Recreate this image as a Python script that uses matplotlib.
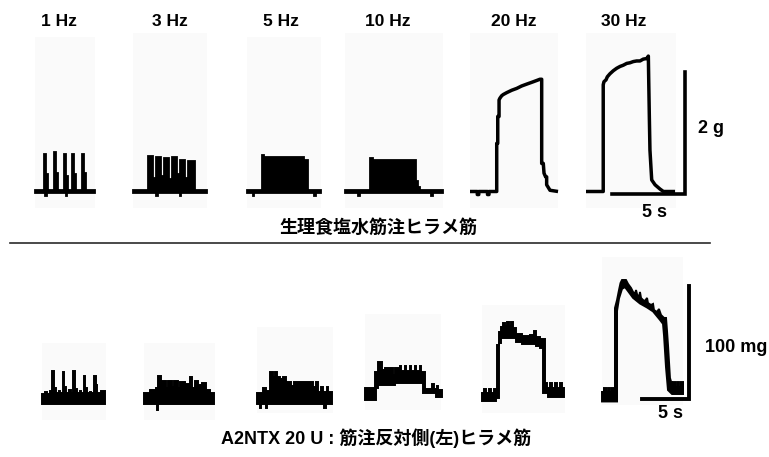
import matplotlib
matplotlib.use("Agg")
import matplotlib.pyplot as plt
from matplotlib.lines import Line2D

W, H = 769, 457
fig = plt.figure(figsize=(W / 100, H / 100), dpi=100)

# ---------------- data (time in s, force in g / mg) ----------------
freq_labels = ["1 Hz", "3 Hz", "5 Hz", "10 Hz", "20 Hz", "30 Hz"]

# saline-injected soleus, force in g (upper / lower envelope of recorded trace)
saline_1hz_upper = [(0, 0.03), (0.62, 0.03), (0.62, 0.61), (0.72, 0.61), (0.72, 0.28), (0.86, 0.28), (0.86, 0.03),
                    (1.31, 0.03), (1.31, 0.64), (1.41, 0.64), (1.41, 0.30), (1.55, 0.30), (1.55, 0.03),
                    (1.99, 0.03), (1.99, 0.61), (2.09, 0.61), (2.09, 0.26), (2.23, 0.26), (2.23, 0.03),
                    (2.54, 0.03), (2.54, 0.61), (2.64, 0.61), (2.64, 0.28), (2.78, 0.28), (2.78, 0.03),
                    (3.23, 0.03), (3.23, 0.61), (3.33, 0.61), (3.33, 0.30), (3.47, 0.30), (3.47, 0.03), (4.11, 0.03)]
saline_1hz_lower = [(0, -0.03), (0.7, -0.03), (0.7, -0.07), (0.8, -0.07), (0.8, -0.03), (2.1, -0.03), (2.1, -0.07),
                    (2.2, -0.07), (2.2, -0.03), (4.11, -0.03)]

saline_3hz_upper = [(0, 0.03), (1.03, 0.03), (1.03, 0.58), (1.40, 0.58), (1.40, 0.22), (1.60, 0.22), (1.60, 0.57),
                    (1.95, 0.57), (1.95, 0.25), (2.15, 0.25), (2.15, 0.55), (2.45, 0.55), (2.45, 0.20), (2.65, 0.20),
                    (2.65, 0.57), (3.00, 0.57), (3.00, 0.28), (3.20, 0.28), (3.20, 0.52), (3.55, 0.52), (3.55, 0.22),
                    (3.75, 0.22), (3.75, 0.50), (4.25, 0.50), (4.25, 0.03), (5.07, 0.03)]
saline_3hz_lower = [(0, -0.03), (1.6, -0.03), (1.6, -0.07), (1.7, -0.07), (1.7, -0.03), (3.2, -0.03), (3.2, -0.07),
                    (3.3, -0.07), (3.3, -0.03), (5.07, -0.03)]

saline_5hz_upper = [(0, 0.03), (1.0, 0.03), (1.0, 0.60), (1.15, 0.60), (1.15, 0.56), (3.9, 0.56), (3.9, 0.52),
                    (4.15, 0.52), (4.15, 0.03), (5.07, 0.03)]
saline_5hz_lower = [(0, -0.03), (0.4, -0.03), (0.4, -0.07), (0.5, -0.07), (0.5, -0.03), (4.6, -0.03), (4.6, -0.07),
                    (4.7, -0.07), (4.7, -0.03), (5.07, -0.03)]

saline_10hz_upper = [(0, 0.03), (1.71, 0.03), (1.71, 0.55), (1.9, 0.55), (1.9, 0.51), (4.86, 0.51), (4.86, 0.18),
                     (5.0, 0.18), (5.0, 0.08), (5.15, 0.08), (5.15, 0.03), (6.71, 0.03)]
saline_10hz_lower = [(0, -0.03), (0.9, -0.03), (0.9, -0.07), (1.0, -0.07), (1.0, -0.03), (5.9, -0.03), (5.9, -0.07),
                     (6.0, -0.07), (6.0, -0.03), (6.71, -0.03)]

saline_20hz = [(0, 0), (0.5, 0), (0.5, -0.05), (0.6, -0.05), (0.6, 0), (1.2, 0), (1.2, -0.05), (1.3, -0.05), (1.3, 0),
               (1.83, 0), (1.83, 0.79), (1.90, 0.79), (1.90, 1.23), (1.99, 1.23), (1.99, 1.50), (2.05, 1.53),
               (2.17, 1.57), (2.28, 1.59), (2.51, 1.62), (2.86, 1.66), (3.20, 1.69), (3.54, 1.73), (3.88, 1.76),
               (4.23, 1.79), (4.57, 1.82), (4.79, 1.84), (4.91, 1.84), (4.91, 0.46), (5.02, 0.46), (5.07, 0.30),
               (5.18, 0.24), (5.25, 0.24), (5.25, 0.11), (5.48, 0.02), (6.03, 0)]

saline_30hz = [(0, 0), (1.18, 0), (1.18, 1.75), (1.23, 1.80), (1.37, 1.83), (1.46, 1.88), (1.64, 1.93), (1.87, 1.98),
               (2.10, 2.02), (2.33, 2.05), (2.55, 2.07), (2.79, 2.10), (3.01, 2.11), (3.24, 2.13), (3.47, 2.14),
               (3.70, 2.14), (3.92, 2.17), (4.16, 2.18), (4.27, 2.22), (4.30, 1.77), (4.34, 1.20), (4.38, 0.68),
               (4.50, 0.19), (4.73, 0.11), (5.07, 0.04), (5.30, 0), (6.10, 0)]

# A2NTX 20 U, contralateral (left) soleus, force in mg
toxin_1hz_upper = [(0, 8), (0.3, 8), (0.3, 10), (0.5, 10), (0.5, 8), (0.9, 8), (0.9, 11), (1.1, 11), (1.1, 29),
                   (1.25, 29), (1.25, 14), (1.45, 14), (1.45, 9), (1.8, 9), (1.8, 11), (1.95, 11), (1.95, 9),
                   (2.2, 9), (2.2, 28), (2.35, 28), (2.35, 15), (2.55, 15), (2.55, 9), (2.9, 9), (2.9, 12),
                   (3.05, 12), (3.05, 9), (3.35, 9), (3.35, 29), (3.5, 29), (3.5, 13), (3.7, 13), (3.7, 9), (4.0, 9),
                   (4.0, 11), (4.15, 11), (4.15, 9), (4.45, 9), (4.45, 24), (4.6, 24), (4.6, 14), (4.8, 14), (4.8, 9),
                   (5.1, 9), (5.1, 10), (5.25, 10), (5.25, 9), (5.55, 9), (5.55, 24), (5.7, 24), (5.7, 16), (5.9, 16),
                   (5.9, 9), (6.3, 9), (6.3, 11), (6.7, 11)]
toxin_1hz_lower = [(0, 0), (6.7, 0)]

toxin_3hz_upper = [(0, 9.3), (0.64, 9.3), (0.64, 11.9), (1.28, 11.9), (1.28, 13.7), (1.49, 13.7), (1.49, 24.3),
                   (1.81, 24.3), (1.81, 19.9), (2.30, 19.9), (2.30, 13.5), (2.52, 13.5), (2.52, 19.9), (2.95, 19.9),
                   (2.95, 14.5), (3.17, 14.5), (3.17, 19.9), (3.60, 19.9), (3.60, 13.6), (3.82, 13.6), (3.82, 19.0),
                   (4.36, 19.0), (4.36, 17.3), (4.89, 17.3), (4.89, 23.5), (5.11, 23.5), (5.11, 13.7), (5.45, 13.7),
                   (5.45, 19.9), (5.74, 19.9), (5.74, 16.4), (6.17, 16.4), (6.17, 18.1), (6.60, 18.1), (6.60, 11.9),
                   (7.02, 11.9), (7.02, 9.3), (7.45, 9.3)]
toxin_3hz_lower = [(0, 0), (1.35, 0), (1.35, -6), (1.5, -6), (1.5, 0), (7.45, 0)]

toxin_5hz_upper = [(0, 9.3), (0.67, 9.3), (0.67, 13.7), (0.99, 13.7), (0.99, 11.1), (1.41, 11.1), (1.41, 27.9),
                   (1.73, 27.9), (1.73, 23.5), (1.95, 23.5), (1.95, 27.9), (2.16, 27.9), (2.16, 23.5), (2.48, 23.5),
                   (2.48, 21.7), (2.80, 21.7), (2.80, 23.5), (3.12, 23.5), (3.12, 19.0), (3.70, 19.0), (3.70, 15.3),
                   (3.95, 15.3), (3.95, 19.0), (5.99, 19.0), (5.99, 14.6), (6.36, 14.6), (6.36, 19.0), (6.52, 19.0),
                   (6.52, 10.2), (6.89, 10.2), (6.89, 14.6), (7.05, 14.6), (7.05, 10.2), (7.43, 10.2), (7.43, 14.6),
                   (7.59, 14.6), (7.59, 10.2), (7.98, 10.2)]
toxin_5hz_lower = [(0, 0), (0.3, 0), (0.3, -4), (0.45, -4), (0.45, 0), (0.95, 0), (0.95, -4), (1.1, -4), (1.1, 0),
                   (7.2, 0), (7.2, -4), (7.35, -4), (7.35, 0), (7.98, 0)]

toxin_10hz_upper = [(0, 13.7), (1.06, 13.7), (1.06, 27.9), (1.38, 27.9), (1.38, 36.7), (1.81, 36.7), (1.81, 29.6),
                    (2.13, 29.6), (2.13, 31.4), (2.95, 31.4), (2.95, 25.0), (3.17, 25.0), (3.17, 31.4), (3.72, 31.4),
                    (3.72, 33.0), (3.85, 33.0), (3.85, 28.8), (4.24, 28.8), (4.24, 33.0), (4.38, 33.0), (4.38, 28.8),
                    (4.77, 28.8), (4.77, 33.0), (4.91, 33.0), (4.91, 28.8), (5.30, 28.8), (5.30, 33.0), (5.45, 33.0),
                    (5.45, 28.8), (5.83, 28.8), (5.83, 33.0), (5.98, 33.0), (5.98, 27.9), (6.38, 27.9), (6.38, 12.8),
                    (7.13, 12.8), (7.13, 17.3), (7.34, 17.3), (7.34, 12.8), (7.66, 12.8), (7.66, 15.5), (7.80, 15.5),
                    (7.80, 11.9), (8.14, 11.9)]
toxin_10hz_lower = [(0, 3.1), (1.17, 3.1), (1.17, 13.7), (1.38, 13.7), (1.38, 16.4), (3.19, 16.4), (3.19, 18.1),
                    (6.20, 18.1), (6.20, 9.3), (7.55, 9.3), (7.55, 5.8), (8.14, 5.8)]

toxin_20hz_upper = [(0, 9.3), (0.21, 9.3), (0.21, 12.8), (0.43, 12.8), (0.43, 9.3), (0.74, 9.3), (0.74, 12.8),
                    (0.96, 12.8), (0.96, 9.3), (1.28, 9.3), (1.28, 12.8), (1.49, 12.8), (1.49, 10.2), (1.60, 10.2),
                    (1.60, 51.8), (1.81, 51.8), (1.81, 63.3), (2.02, 63.3), (2.02, 67.7), (2.23, 67.7), (2.23, 71.2),
                    (2.45, 71.2), (2.45, 68.6), (2.66, 68.6), (2.66, 72.1), (2.87, 72.1), (2.87, 68.6), (3.09, 68.6),
                    (3.09, 72.1), (3.30, 72.1), (3.30, 66.8), (3.62, 66.8), (3.62, 61.5), (4.26, 61.5), (4.26, 59.7),
                    (5.11, 59.7), (5.11, 60.6), (5.53, 60.6), (5.53, 64.2), (5.74, 64.2), (5.74, 58.8), (6.17, 58.8),
                    (6.17, 57.1), (6.70, 57.1), (6.70, 18.1), (6.91, 18.1), (6.91, 13.7), (7.23, 13.7), (7.23, 18.1),
                    (7.45, 18.1), (7.45, 13.7), (7.77, 13.7), (7.77, 18.1), (7.98, 18.1), (7.98, 13.7), (8.30, 13.7),
                    (8.30, 18.1), (8.51, 18.1), (8.51, 13.7), (8.72, 13.7)]
toxin_20hz_lower = [(0, 1.8), (1.49, 1.8), (1.49, 4.9), (1.81, 4.9), (1.81, 53.5), (2.02, 53.5), (2.02, 58.0),
                    (3.62, 58.0), (3.62, 54.5), (4.26, 54.5), (4.26, 52.7), (5.74, 52.7), (5.74, 51.0), (6.17, 51.0),
                    (6.17, 49.5), (6.49, 49.5), (6.49, 9.3), (7.02, 9.3), (7.02, 5.8), (8.72, 5.8)]

toxin_30hz_upper = [(0, 10.2), (0.21, 10.2), (0.21, 13.7), (0.43, 13.7), (0.43, 10.2), (0.64, 10.2), (0.64, 13.7),
                    (0.85, 13.7), (0.85, 10.2), (1.06, 10.2), (1.06, 13.7), (1.28, 13.7), (1.28, 10.2), (1.38, 10.2),
                    (1.38, 84.5), (1.60, 91.6), (1.81, 100.4), (1.97, 106.6), (2.13, 109.3), (2.55, 109.3),
                    (2.77, 105.8), (3.09, 102.2), (3.30, 98.7), (3.51, 96.9), (3.62, 100.4), (3.72, 96.9),
                    (3.94, 93.4), (4.04, 98.7), (4.15, 93.4), (4.36, 91.6), (4.57, 90.7), (4.79, 93.4), (4.89, 88.9),
                    (5.21, 87.2), (5.43, 88.1), (5.53, 82.7), (5.85, 81.0), (6.06, 83.6), (6.28, 78.3), (6.60, 75.7),
                    (6.81, 75.7), (6.91, 65.0), (7.02, 51.8), (7.23, 22.6), (7.45, 16.4), (7.55, 16.4), (7.55, 19.0),
                    (7.77, 19.0), (7.77, 14.6), (7.98, 14.6), (7.98, 19.0), (8.19, 19.0), (8.19, 14.6), (8.40, 14.6),
                    (8.40, 19.0), (8.62, 19.0)]
toxin_30hz_lower = [(0, 1.8), (1.60, 1.8), (1.60, 82.0), (1.81, 93.0), (2.13, 101.5), (2.45, 103.0), (2.77, 99.5),
                    (3.30, 93.5), (4.04, 88.5), (4.79, 85.0), (5.43, 81.5), (6.17, 74.0), (6.49, 70.5), (6.60, 60.0),
                    (6.81, 32.0), (7.02, 11.9), (7.45, 8.4), (8.62, 8.4)]

scale_time_s = 5
scale_top_g = 2
scale_bottom_mg = 100
scale_top_labels = ["2 g", "5 s"]
scale_bottom_labels = ["100 mg", "5 s"]
caption_top = "生理食塩水筋注ヒラメ筋"
caption_bottom = "A2NTX 20 U : 筋注反対側(左)ヒラメ筋"

# ---------------- layout (pixel geometry) ----------------
TOP = dict(base=191.5, pps=14.6, ppu=61.0)
BOT = dict(base=403.5, pps=9.4, ppu=1.13)
top_boxes = [(35, 37, 95, 208), (133, 33, 207, 208), (247, 37, 321, 208),
             (345, 33, 443, 208), (470, 33, 558, 208), (586, 33, 676, 208)]
bot_boxes = [(42, 343, 106, 420), (144, 343, 215, 420), (256.7, 327, 333, 413),
             (365, 314, 441.5, 410), (482, 305, 564.5, 413), (602, 257, 683, 405)]
label_x = [59, 170, 281, 388, 514, 624]
label_y = 21.5
BG = "#fafafa"


def panel(box, row, face=BG):
    L, T, R, B = box
    ax = fig.add_axes([L / W, 1 - B / H, (R - L) / W, (B - T) / H])
    ax.set_xlim(0, (R - L) / row["pps"])
    ax.set_ylim((row["base"] - B) / row["ppu"], (row["base"] - T) / row["ppu"])
    ax.set_facecolor(face)
    ax.set_xticks([])
    ax.set_yticks([])
    for s in ax.spines.values():
        s.set_visible(False)
    if face == "none":
        ax.patch.set_visible(False)
    return ax


def band(ax, upper, lower, lw=1.3):
    xs = [p[0] for p in upper] + [p[0] for p in reversed(lower)]
    ys = [p[1] for p in upper] + [p[1] for p in reversed(lower)]
    ax.fill(xs, ys, facecolor="black", edgecolor="black", lw=lw, joinstyle="miter", clip_on=False)


def line(ax, pts, lw=2.5):
    ax.plot([p[0] for p in pts], [p[1] for p in pts], color="black", lw=lw,
            solid_joinstyle="round", solid_capstyle="butt", clip_on=False)


top_bands = [(saline_1hz_upper, saline_1hz_lower), (saline_3hz_upper, saline_3hz_lower),
             (saline_5hz_upper, saline_5hz_lower), (saline_10hz_upper, saline_10hz_lower)]
for box, (u, lo) in zip(top_boxes[:4], top_bands):
    band(panel(box, TOP), u, lo)
line(panel(top_boxes[4], TOP), saline_20hz)
line(panel(top_boxes[5], TOP), saline_30hz)

bot_bands = [(toxin_1hz_upper, toxin_1hz_lower), (toxin_3hz_upper, toxin_3hz_lower),
             (toxin_5hz_upper, toxin_5hz_lower), (toxin_10hz_upper, toxin_10hz_lower),
             (toxin_20hz_upper, toxin_20hz_lower), (toxin_30hz_upper, toxin_30hz_lower)]
for box, (u, lo) in zip(bot_boxes, bot_bands):
    band(panel(box, BOT), u, lo, lw=1.4)

# scale bars
sb_top = panel((684.5 - scale_time_s * TOP["pps"], 60, 700, 200), dict(base=193.5, pps=TOP["pps"], ppu=TOP["ppu"]),
               face="none")
sb_top.plot([0, scale_time_s, scale_time_s], [0, 0, scale_top_g], color="black", lw=2.6,
            solid_joinstyle="miter", solid_capstyle="projecting", clip_on=False)
sb_bot = panel((688.5 - scale_time_s * BOT["pps"], 280, 700, 405), dict(base=399, pps=BOT["pps"], ppu=BOT["ppu"]),
               face="none")
sb_bot.plot([0, scale_time_s, scale_time_s], [0, 0, scale_bottom_mg], color="black", lw=2.8,
            solid_joinstyle="miter", solid_capstyle="projecting", clip_on=False)

# texts
LAT = ["Liberation Sans", "Noto Sans CJK JP"]
CJK = ["Noto Sans CJK JP", "Liberation Sans"]


def ftext(x, y, s, size=13, family=LAT, ha="center"):
    fig.text(x / W, 1 - y / H, s, fontsize=size, fontweight="bold", family=family, ha=ha, va="center")


for x, s in zip(label_x, freq_labels):
    ftext(x, label_y, s, size=12.5)
ftext(711, 128.5, scale_top_labels[0])
ftext(654.5, 212.5, scale_top_labels[1])
ftext(736, 348, scale_bottom_labels[0])
ftext(670, 413.5, scale_bottom_labels[1])
ftext(378, 227, caption_top, size=13, family=CJK)
ftext(376, 438, caption_bottom, size=13, family=LAT)

fig.add_artist(Line2D([10 / W, 710 / W], [1 - 243.5 / H, 1 - 243.5 / H], color="#2a2a2a", lw=1.2))

fig.savefig("out.png", dpi=100, facecolor="white")
